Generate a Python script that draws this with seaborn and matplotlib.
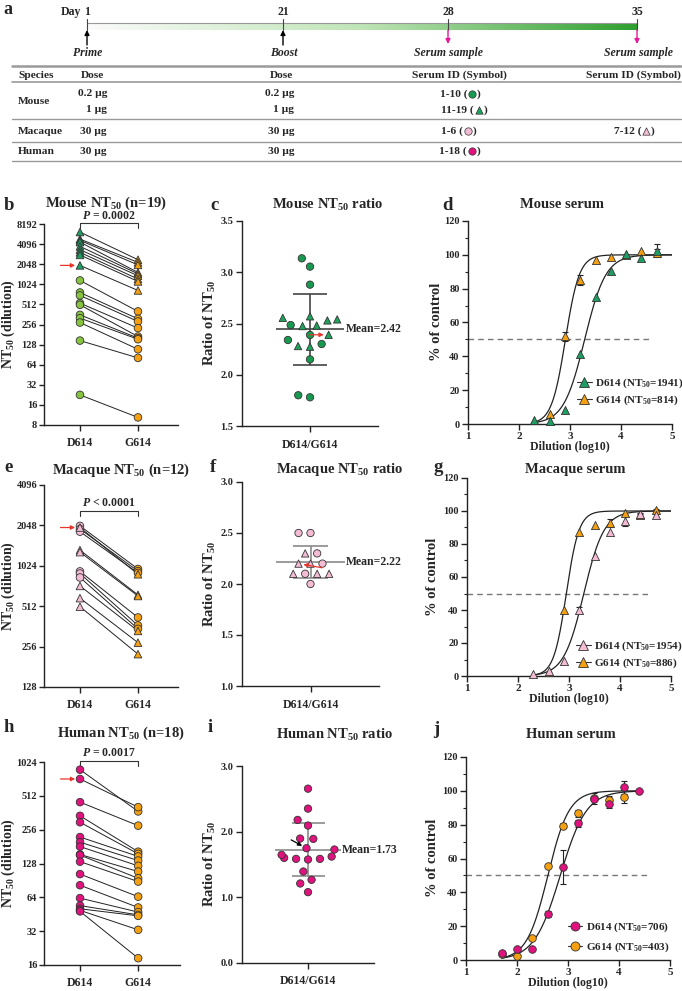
import numpy as np
import pandas as pd
import matplotlib
matplotlib.use("Agg")
import matplotlib.pyplot as plt
import seaborn as sns
from matplotlib.colors import LinearSegmentedColormap
from matplotlib.lines import Line2D
from matplotlib.markers import MarkerStyle

# ---------------- data ----------------
# a: schedule and table
days = [1, 21, 28, 35]
events = ["Prime", "Boost", "Serum sample", "Serum sample"]
species = ["Mouse", "Macaque", "Human"]
prime_dose = ["0.2 µg", "1 µg", "30 µg", "30 µg"]
boost_dose = ["0.2 µg", "1 µg", "30 µg", "30 µg"]
serum_day28 = ["1-10", "11-19", "1-6", "1-18"]
serum_day35 = ["", "", "7-12", ""]

# b: mouse NT50, D614 -> G614 pairs
mouse_circ_d614 = [1170, 772, 698, 535, 505, 357, 319, 274, 147, 22.6]
mouse_circ_g614 = [402, 311, 284, 226, 169, 160, 154, 109, 81, 10.4]
mouse_tri_d614 = [6210, 4870, 4660, 4390, 3790, 3380, 3080, 2820, 1965]
mouse_tri_g614 = [2390, 2180, 2000, 1540, 1470, 1375, 1230, 1130, 828]

# c: mouse NT50 ratio
mouse_ratio_circ = [3.136, 3.055, 2.879, 2.485, 2.388, 2.300, 2.339, 2.150, 1.780, 1.800]
mouse_ratio_tri = [2.555, 2.540, 2.530, 2.570, 2.480, 2.475, 2.390, 2.274, 2.280]

# d: mouse neutralization curves
mouse_dil = [2.3, 2.6, 2.9, 3.2, 3.5, 3.8, 4.1, 4.4, 4.7]
mouse_cur_d614 = [2.2, 2.0, 8.5, 41.3, 74.8, 90.5, 100.6, 98.4, 102.5]
mouse_cur_d614_sd = [0, 0, 0, 0, 0, 0, 0, 0, 4.0]
mouse_cur_g614 = [np.nan, 5.9, 51.8, 85.2, 97.0, 99.0, 100.0, 102.5, 101.2]
mouse_cur_g614_sd = [0, 0, 2.5, 3.0, 0, 0, 0, 0, 2.0]
mouse_nt50 = [1941, 814]
mouse_hill = [2.1, 3.2]

# e: macaque NT50 pairs
mac_circ_d614 = [2030, 1925, 1840, 930, 897, 838]
mac_circ_g614 = [970, 935, 905, 422, 368, 347]
mac_tri_d614 = [1975, 1340, 1295, 725, 588, 508]
mac_tri_g614 = [886, 622, 610, 335, 274, 225]

# f: macaque NT50 ratio
mac_ratio_circ = [2.50, 2.50, 2.30, 2.20, 2.10, 2.00]
mac_ratio_tri = [2.30, 2.20, 2.20, 2.10, 2.10, 2.10]

# g: macaque neutralization curves
mac_dil = [2.3, 2.6, 2.9, 3.2, 3.5, 3.8, 4.1, 4.4, 4.7]
mac_cur_d614 = [1.0, 3.0, 9.0, 40.0, 73.0, 87.0, 94.2, 98.0, 97.3]
mac_cur_d614_sd = [0, 0, 0, 2.0, 0, 0, 3.5, 1.0, 0]
mac_cur_g614 = [np.nan, 2.5, 40.0, 87.4, 91.3, 92.8, 98.6, 97.3, 100.4]
mac_cur_g614_sd = [0, 0, 0, 0, 0, 2.5, 0, 1.0, 1.0]
mac_nt50 = [1954, 886]
mac_hill = [2.2, 3.5]

# h: human NT50 pairs
human_d614 = [875, 723, 450, 340, 298, 220, 198, 181, 154, 152, 133, 103, 82, 63, 54, 50.6, 49, 48]
human_g614 = [372, 406, 278, 163, 156, 148, 136, 122, 108.6, 94.6, 88.4, 64.9, 52, 47.3, 44.7, 43.8, 32.9, 18.4]

# i: human NT50 ratio
human_ratio = [2.655, 2.351, 2.179, 2.093, 1.895, 1.890, 1.748, 1.728, 1.586,
               1.601, 1.576, 1.621, 1.647, 1.586, 1.393, 1.267, 1.211, 1.079]

# j: human neutralization curves
human_dil = [1.7, 2.0, 2.3, 2.6, 2.9, 3.2, 3.5, 3.8, 4.1, 4.4]
human_cur_d614 = [4.3, 6.7, 6.7, 27.2, 54.8, 80.9, 95.0, 92.1, 102.0, 100.0]
human_cur_d614_sd = [0.8, 0, 0, 2.0, 10.0, 2.0, 0, 2.0, 4.0, 0]
human_cur_g614 = [3.4, 2.4, 13.0, 55.8, 79.5, 86.8, 95.5, 94.3, 96.6, np.nan]
human_cur_g614_sd = [0.8, 0, 0, 0, 1.5, 2.0, 3.0, 2.5, 4.0, 0]
human_nt50 = [706, 403]
human_hill = [1.7, 2.1]

mean_labels = ["Mean=2.42", "Mean=2.22", "Mean=1.73"]

# ---------------- style ----------------
GREEN_LIME = "#86c440"
GREEN_TEAL = "#1e9e63"
GREEN_DARK = "#179a4f"
GREEN_MID = "#1fa35c"
ORANGE = "#f4a010"
PINK = "#f3bcd4"
MAGENTA = "#e0127e"
EDGE = "#333333"
RED = "#e8352b"

sns.set_theme(style="ticks")
plt.rcParams["font.family"] = ["Liberation Serif", "DejaVu Serif"]
plt.rcParams["font.weight"] = "bold"
plt.rcParams["axes.labelweight"] = "bold"
plt.rcParams["mathtext.fontset"] = "custom"
plt.rcParams["mathtext.rm"] = "Liberation Serif:bold"
plt.rcParams["mathtext.it"] = "Liberation Serif:italic:bold"
plt.rcParams["mathtext.bf"] = "Liberation Serif:bold"

W, H = 682, 991
fig = plt.figure(figsize=(W / 100, H / 100), dpi=100)
TICK_FS = 7.5


def px_axes(l, t, r, b):
    return fig.add_axes([l / W, 1 - b / H, (r - l) / W, (b - t) / H])


def ftext(x, y, s, **kw):
    kw.setdefault("va", "center")
    fig.text(x / W, 1 - y / H, s, **kw)


def style_axes(ax):
    sns.despine(ax=ax)
    for sp in ("left", "bottom"):
        ax.spines[sp].set_linewidth(1.0)
        ax.spines[sp].set_color("#222222")
    ax.tick_params(axis="both", which="major", length=4, width=1,
                   color="#222222", labelsize=TICK_FS, pad=2)
    ax.tick_params(axis="both", which="minor", length=2, width=0.8, color="#222222")
    ax.set_xlabel("")
    ax.set_ylabel("")


def marker_path(m):
    ms = MarkerStyle(m)
    return ms.get_path().transformed(ms.get_transform())


# ---------------- panel a ----------------
ax_a = fig.add_axes([0, 1 - 168 / H, 1, 168 / H])
ax_a.set_xlim(0, W)
ax_a.set_ylim(168, 0)
ax_a.axis("off")

day_x = [87, 283, 448, 637]
cmap = LinearSegmentedColormap.from_list("bar", ["#fbfbfb", "#bfe5b6", "#2f9f2f"])
ax_a.imshow(np.linspace(0, 1, 256)[None, :], extent=(day_x[0], day_x[-1], 30, 23),
            aspect="auto", cmap=cmap, zorder=1)
ax_a.plot([day_x[0], day_x[-1]], [23, 23], color="#999999", lw=0.8, zorder=2)
ax_a.text(61, 12, "Day", fontsize=8.5, ha="left", va="center")
for d, x, ev in zip(days, day_x, events):
    ax_a.text(x, 12, str(d), fontsize=8.5, ha="center", va="center")
    ax_a.plot([x, x], [19, 30], color="#444444", lw=0.8, zorder=3)
    if ev == "Serum sample":
        ax_a.annotate("", xy=(x, 44), xytext=(x, 30),
                      arrowprops=dict(arrowstyle="-|>", color="#e6199b", lw=1.0,
                                      mutation_scale=7, shrinkA=0, shrinkB=0))
    else:
        ax_a.annotate("", xy=(x, 30), xytext=(x, 45),
                      arrowprops=dict(arrowstyle="-|>", color="black", lw=1.0,
                                      mutation_scale=7, shrinkA=0, shrinkB=0))
    ax_a.text(x + 1, 53, ev, fontsize=8.5, style="italic", ha="center", va="center")

for y, lw in zip([66, 82, 119, 142, 161], [1.8, 1.2, 1.0, 1.0, 1.0]):
    ax_a.plot([12, 681], [y, y], color="#9a9a9a", lw=lw)

tfs = 8.2
ax_a.text(18, 75, "Species", fontsize=tfs, va="center")
ax_a.text(92, 75, "Dose", fontsize=tfs, ha="center", va="center")
ax_a.text(281, 75, "Dose", fontsize=tfs, ha="center", va="center")
ax_a.text(459, 75, "Serum ID (Symbol)", fontsize=tfs, ha="center", va="center")
ax_a.text(633, 75, "Serum ID (Symbol)", fontsize=tfs, ha="center", va="center")

for sp, y in zip(species, [102, 131, 151]):
    ax_a.text(18, y, sp, fontsize=tfs, va="center")
row_y = [94, 110, 131, 151]
sym28 = [("o", GREEN_DARK, 472), ("^", GREEN_MID, 479), ("o", PINK, 468), ("o", MAGENTA, 472)]
for y, d1, d2, sid, (m, c, sx) in zip(row_y, prime_dose, boost_dose, serum_day28, sym28):
    ax_a.text(107, y, d1, fontsize=tfs, ha="right", va="center")
    ax_a.text(294, y, d2, fontsize=tfs, ha="right", va="center")
    ax_a.text(sx - 5, y, sid + " (", fontsize=tfs, ha="right", va="center")
    ax_a.scatter([sx], [y], marker=m, s=28, color=c, edgecolor=EDGE, linewidth=0.5, zorder=4)
    ax_a.text(sx + 5, y, ")", fontsize=tfs, ha="left", va="center")
for y, sid in zip(row_y, serum_day35):
    if sid:
        ax_a.text(641, y, sid + " (", fontsize=tfs, ha="right", va="center")
        ax_a.scatter([646], [y], marker="^", s=28, color=PINK, edgecolor=EDGE, linewidth=0.5, zorder=4)
        ax_a.text(651, y, ")", fontsize=tfs, ha="left", va="center")
ftext(3, 9, "a", fontsize=13)


# ---------------- paired NT50 panels ----------------
def pair_panel(ax, groups, yticks, ptext, bracket, arrow_val):
    rows = []
    for kind, tone, dvals, gvals in groups:
        for i, (dv, gv) in enumerate(zip(dvals, gvals)):
            rows.append(dict(id=f"{kind}{tone}{i}", pos=0, nt50=dv, kind=kind, tone=tone))
            rows.append(dict(id=f"{kind}{tone}{i}", pos=1, nt50=gv, kind=kind, tone="G614"))
    df = pd.DataFrame(rows)
    palette = {"lime": GREEN_LIME, "teal": GREEN_TEAL, "pink": PINK,
               "magenta": MAGENTA, "G614": ORANGE}
    sns.lineplot(data=df, x="pos", y="nt50", units="id", estimator=None,
                 color="#222222", lw=0.7, ax=ax, legend=False, zorder=2)
    sns.scatterplot(data=df, x="pos", y="nt50", hue="tone", palette=palette,
                    style="kind", markers={"circle": "o", "triangle": "^"},
                    s=30, edgecolor=EDGE, linewidth=0.6, ax=ax, legend=False,
                    zorder=3, clip_on=False)
    ax.set_yscale("log", base=2)
    ax.set_ylim(yticks[0], yticks[-1])
    ax.set_yticks(yticks)
    ax.set_yticklabels([str(t) for t in yticks])
    ax.minorticks_off()
    ax.set_xticks([0, 1])
    ax.set_xticklabels(["D614", "G614"])
    style_axes(ax)
    ax.tick_params(axis="y", length=3.5, pad=1.5)
    ax.tick_params(axis="x", pad=5, labelsize=8.5)
    ybr, ytk, ytx = bracket
    tr = ax.get_xaxis_transform()
    ax.plot([0, 0, 1, 1], [ytk, ybr, ybr, ytk], transform=tr, clip_on=False,
            color="#333333", lw=0.8)
    ax.text(0.5, ytx, ptext, transform=tr, ha="center", va="center", fontsize=8.5)
    ax.annotate("", xy=(0, arrow_val), xytext=(-14, 0), textcoords="offset points",
                arrowprops=dict(arrowstyle="-|>", color=RED, lw=0.9, mutation_scale=6,
                                shrinkA=0, shrinkB=3.5))


ax_b = px_axes(44, 224, 178, 425)
pair_panel(ax_b, [("circle", "lime", mouse_circ_d614, mouse_circ_g614),
                  ("triangle", "teal", mouse_tri_d614, mouse_tri_g614)],
           [2 ** k for k in range(3, 14)], r"$\mathit{P}$ = 0.0002",
           (1.003, 0.978, 1.04), mouse_tri_d614[-1])
ax_b.set_xlim(-0.62, 1.69)

ax_e = px_axes(44, 485, 178, 687)
pair_panel(ax_e, [("circle", "pink", mac_circ_d614, mac_circ_g614),
                  ("triangle", "pink", mac_tri_d614, mac_tri_g614)],
           [2 ** k for k in range(7, 13)], r"$\mathit{P}$ < 0.0001",
           (0.871, 0.848, 0.909), mac_tri_d614[0])
ax_e.set_xlim(-0.62, 1.69)

ax_h = px_axes(44, 762, 180, 965)
pair_panel(ax_h, [("circle", "magenta", human_d614, human_g614)],
           [2 ** k for k in range(4, 11)], r"$\mathit{P}$ = 0.0017",
           (1.005, 0.982, 1.042), human_d614[1])
ax_h.set_xlim(-0.62, 1.72)


# ---------------- ratio panels ----------------
def ratio_panel(ax, values, ylim, yticks, line_color, label):
    df = pd.DataFrame({"pair": "D614/G614", "ratio": values})
    sns.swarmplot(data=df, x="pair", y="ratio", ax=ax, size=7.6, color=GREEN_DARK,
                  edgecolor=EDGE, linewidth=0.6, zorder=3)
    coll = ax.collections[-1]
    mean = np.mean(values)
    sd = np.std(values, ddof=1)
    ax.hlines(mean, -0.5, 0.5, color=line_color, lw=1.2, zorder=2)
    ax.hlines([mean - sd, mean + sd], -0.25, 0.25, color=line_color, lw=1.2, zorder=2)
    ax.vlines(0, mean - sd, mean + sd, color=line_color, lw=1.2, zorder=2)
    ax.text(0.52, mean, label, va="center", ha="left", fontsize=8.5)
    ax.set_xlim(-1, 1)
    ax.set_ylim(*ylim)
    ax.set_yticks(yticks)
    ax.set_yticklabels([f"{t:.1f}" for t in yticks])
    style_axes(ax)
    ax.tick_params(axis="x", pad=5, labelsize=8.5)
    return coll


ax_c = px_axes(242, 221, 378, 426)
coll_c = ratio_panel(ax_c, mouse_ratio_circ + mouse_ratio_tri, (1.5, 3.5),
                     [1.5, 2.0, 2.5, 3.0, 3.5], "#444444", mean_labels[0])
ax_f = px_axes(242, 482, 379, 686)
coll_f = ratio_panel(ax_f, mac_ratio_circ + mac_ratio_tri, (1.0, 3.0),
                     [1.0, 1.5, 2.0, 2.5, 3.0], "#8a8a8a", mean_labels[1])
ax_i = px_axes(242, 766, 374, 963)
coll_i = ratio_panel(ax_i, human_ratio, (0.0, 3.0),
                     [0.0, 1.0, 2.0, 3.0], "#8a8a8a", mean_labels[2])


# ---------------- curve panels ----------------
def curve_panel(ax, dil, dvals, dsd, gvals, gsd, nt50, hill, marker, dcolor, xr, size):
    for vals, sd, col, n50, h in ((gvals, gsd, ORANGE, nt50[1], hill[1]),
                                  (dvals, dsd, dcolor, nt50[0], hill[0])):
        xs = np.linspace(xr[0], xr[1], 300)
        ax.plot(xs, 100 / (1 + 10 ** ((np.log10(n50) - xs) * h)),
                color="#222222", lw=0.9, zorder=2)
        sdv = np.array(sd, dtype=float)
        ok = sdv > 0
        ax.errorbar(np.array(dil)[ok], np.array(vals, dtype=float)[ok], yerr=sdv[ok],
                    fmt="none", ecolor="#222222", elinewidth=0.8, capsize=2.5,
                    capthick=0.8, zorder=3)
        sns.scatterplot(x=dil, y=vals, marker=marker, color=col, s=size,
                        edgecolor=EDGE, linewidth=0.6, ax=ax, zorder=4, clip_on=False)
    ax.plot([1, 4.55], [50, 50], ls=(0, (4, 3)), color="#777777", lw=1.0, zorder=1)
    ax.set_xlim(1, 5)
    ax.set_ylim(0, 120)
    ax.set_xticks([1, 2, 3, 4, 5])
    ax.set_yticks(range(0, 121, 20))
    ax.set_yticks(range(10, 120, 20), minor=True)
    style_axes(ax)
    ax.tick_params(axis="x", labelsize=8)
    ax.set_xlabel("Dilution (log10)", fontsize=8.5, labelpad=0)
    handles = [Line2D([], [], color="#333333", lw=0.8, marker=marker, mfc=c,
                      mec=EDGE, mew=0.6, ms=6.5) for c in (dcolor, ORANGE)]
    labels = [r"D614 (NT$_{50}$=%d)" % nt50[0], r"G614 (NT$_{50}$=%d)" % nt50[1]]
    return handles, labels


LEG = dict(loc="lower left", frameon=False, fontsize=8, handlelength=1.3,
           handletextpad=0.3, borderpad=0, borderaxespad=0)

ax_d = px_axes(468, 221, 672, 424)
hd, ld = curve_panel(ax_d, mouse_dil, mouse_cur_d614, mouse_cur_d614_sd,
                     mouse_cur_g614, mouse_cur_g614_sd, mouse_nt50, mouse_hill,
                     "^", GREEN_TEAL, (2.3, 5.0), 34)
ax_d.legend(hd, ld, bbox_to_anchor=(0.535, 0.085), labelspacing=0.3, **LEG)

ax_g = px_axes(467, 478, 671, 676)
hg, lg = curve_panel(ax_g, mac_dil, mac_cur_d614, mac_cur_d614_sd,
                     mac_cur_g614, mac_cur_g614_sd, mac_nt50, mac_hill,
                     "^", PINK, (2.3, 5.0), 34)
ax_g.legend(hg, lg, bbox_to_anchor=(0.535, 0.03), labelspacing=0.3, **LEG)

ax_j = px_axes(466, 757, 670, 960)
hj, lj = curve_panel(ax_j, human_dil, human_cur_d614, human_cur_d614_sd,
                     human_cur_g614, human_cur_g614_sd, human_nt50, human_hill,
                     "o", MAGENTA, (1.7, 4.4), 30)
ax_j.legend(hj, lj, bbox_to_anchor=(0.5, 0.03), labelspacing=0.55, **LEG)

# ---------------- titles, labels, letters ----------------
tfont = 10.5
ftext(106, 203, r"Mouse NT$_{50}$ (n=19)", fontsize=tfont, ha="center")
ftext(328, 205, r"Mouse NT$_{50}$ ratio", fontsize=tfont, ha="center")
ftext(562, 205, "Mouse serum", fontsize=tfont, ha="center")
ftext(121, 470, r"Macaque NT$_{50}$ (n=12)", fontsize=tfont, ha="center")
ftext(340, 470, r"Macaque NT$_{50}$ ratio", fontsize=tfont, ha="center")
ftext(575, 470, "Macaque serum", fontsize=tfont, ha="center")
ftext(121, 733, r"Human NT$_{50}$ (n=18)", fontsize=tfont, ha="center")
ftext(334, 735, r"Human NT$_{50}$ ratio", fontsize=tfont, ha="center")
ftext(571, 735, "Human serum", fontsize=tfont, ha="center")

for x, y, s in [(4, 205, "b"), (210, 205, "c"), (442, 205, "d"),
                (4, 468, "e"), (210, 468, "f"), (433, 468, "g"),
                (4, 728, "h"), (208, 728, "i"), (433, 730, "j")]:
    ftext(x, y, s, fontsize=13.5)

for x, y, s, fs in [(8.5, 324, r"NT$_{50}$ (dilution)", 10), (210, 323, r"Ratio of NT$_{50}$", 10.5),
                    (436, 322, "% of control", 10.5),
                    (8.5, 586, r"NT$_{50}$ (dilution)", 10), (210, 584, r"Ratio of NT$_{50}$", 10.5),
                    (433, 577, "% of control", 10.5),
                    (8.5, 863, r"NT$_{50}$ (dilution)", 10), (210, 864, r"Ratio of NT$_{50}$", 10.5),
                    (433, 858, "% of control", 10.5)]:
    ftext(x, y, s, fontsize=fs, rotation=90, ha="center")

# ---------------- freeze swarms, set symbols ----------------
fig.canvas.draw()
swarm_sets = [
    (coll_c, ["circle"] * len(mouse_ratio_circ) + ["triangle"] * len(mouse_ratio_tri),
     {"circle": GREEN_DARK, "triangle": GREEN_MID}),
    (coll_f, ["circle"] * len(mac_ratio_circ) + ["triangle"] * len(mac_ratio_tri),
     {"circle": PINK, "triangle": PINK}),
    (coll_i, ["circle"] * len(human_ratio), {"circle": MAGENTA}),
]
shape = {"circle": "o", "triangle": "^"}
for coll, kinds, cols in swarm_sets:
    coll.__dict__.pop("draw", None)
    coll.set_sizes([28])
    coll.set_paths([marker_path(shape[k]) for k in kinds])
    coll.set_facecolors([cols[k] for k in kinds])

# arrows to the highlighted sera
arrow_specs = [
    (ax_c, coll_c, len(mouse_ratio_circ) + 6, (-14, 0), RED),
    (ax_f, coll_f, len(mac_ratio_circ) + 1, (17, -3), RED),
    (ax_i, coll_i, 6, (-11, 6), "black"),
]
for ax, coll, idx, off, col in arrow_specs:
    px, py = coll.get_offsets()[idx]
    ax.annotate("", xy=(px, py), xytext=off, textcoords="offset points",
                arrowprops=dict(arrowstyle="-|>", color=col, lw=0.9, mutation_scale=6,
                                shrinkA=0, shrinkB=3.5))

fig.savefig("out.png", dpi=100)
